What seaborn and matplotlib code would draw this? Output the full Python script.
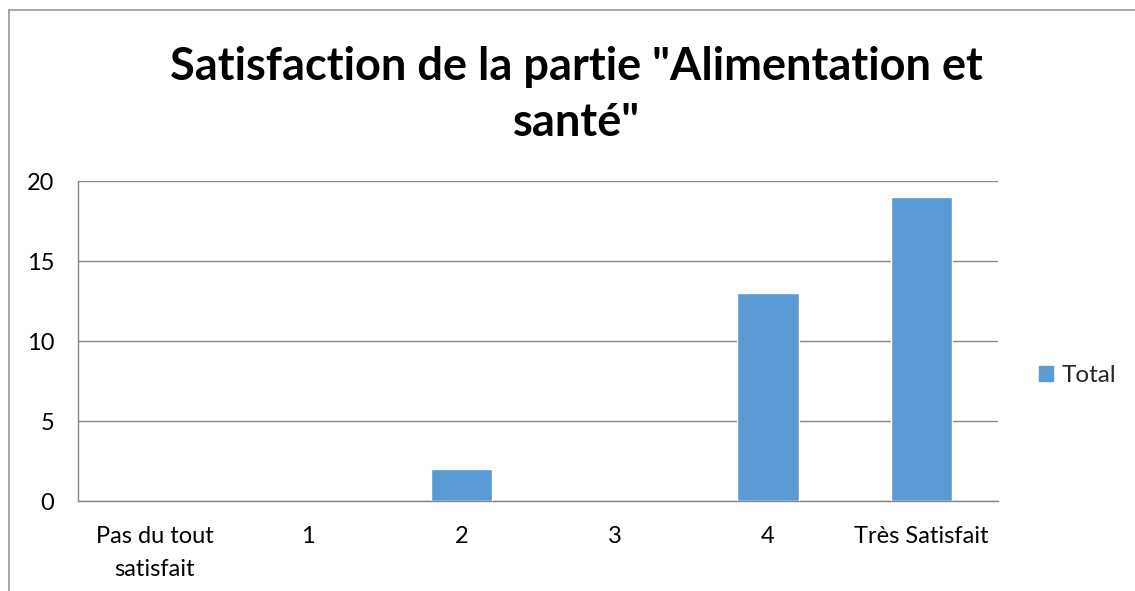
import seaborn as sns
import matplotlib.pyplot as plt
import matplotlib.patches as mpatches
import pandas as pd

categories = ["Pas du tout\nsatisfait", "1", "2", "3", "4", "Très Satisfait"]
totals = [0, 0, 2, 0, 13, 19]
yticks = [0, 5, 10, 15, 20]

df = pd.DataFrame({"niveau": categories, "Total": totals})

sns.set_style("white")
plt.rcParams['font.family'] = ['Lato', 'DejaVu Sans']

fig = plt.figure(figsize=(11.35, 5.91), dpi=100)
ax = fig.add_axes([78 / 1135, 90 / 591, 920 / 1135, 320 / 591])

sns.barplot(data=df, x="niveau", y="Total", color="#5B9BD5", width=0.4,
            saturation=1, ax=ax, zorder=3)

ax.set_ylim(0, 20)
ax.set_xlim(-0.5, len(categories) - 0.5)
ax.set_yticks(yticks)
ax.set_yticklabels([str(v) for v in yticks], fontsize=17, color="black")
ax.tick_params(axis="y", length=6, color="#868686", pad=11)
ax.tick_params(axis="x", length=0, pad=18, labelsize=17, labelcolor="black")
ax.set_xticks(range(len(categories)))
ax.set_xticklabels(categories, fontsize=17, linespacing=1.7)
ax.set_xticks([i - 0.5 for i in range(len(categories) + 1)], minor=True)
ax.tick_params(axis="x", which="minor", length=7, color="#868686", width=1)
ax.grid(axis="y", color="#868686", linewidth=1, zorder=0)
ax.set_xlabel("")
ax.set_ylabel("")
for side in ["top", "right"]:
    ax.spines[side].set_visible(False)
for side in ["left", "bottom"]:
    ax.spines[side].set_color("#868686")
    ax.spines[side].set_linewidth(1)

fig.text(576 / 1135, 1 - 67 / 591, 'Satisfaction de la partie "Alimentation et',
         ha="center", va="center", fontsize=32.5, fontweight="bold", color="black")
fig.text(576 / 1135, 1 - 123 / 591, 'santé"',
         ha="center", va="center", fontsize=32.5, fontweight="bold", color="black")

handle = mpatches.Patch(color="#5B9BD5", label="Total")
fig.legend(handles=[handle], loc="center left", bbox_to_anchor=(1017 / 1135, 1 - 376 / 591),
           frameon=False, fontsize=17.5, handlelength=0.58, handleheight=0.58,
           handletextpad=0.35)

# cadre du graphique (haut et gauche)
fig.add_artist(plt.Line2D([9 / 1135, 9 / 1135], [0, 1 - 10 / 591], color="#9a9a9a", lw=1.2))
fig.add_artist(plt.Line2D([9 / 1135, 1], [1 - 10 / 591, 1 - 10 / 591], color="#9a9a9a", lw=1.2))

fig.savefig("out.png", dpi=100)
